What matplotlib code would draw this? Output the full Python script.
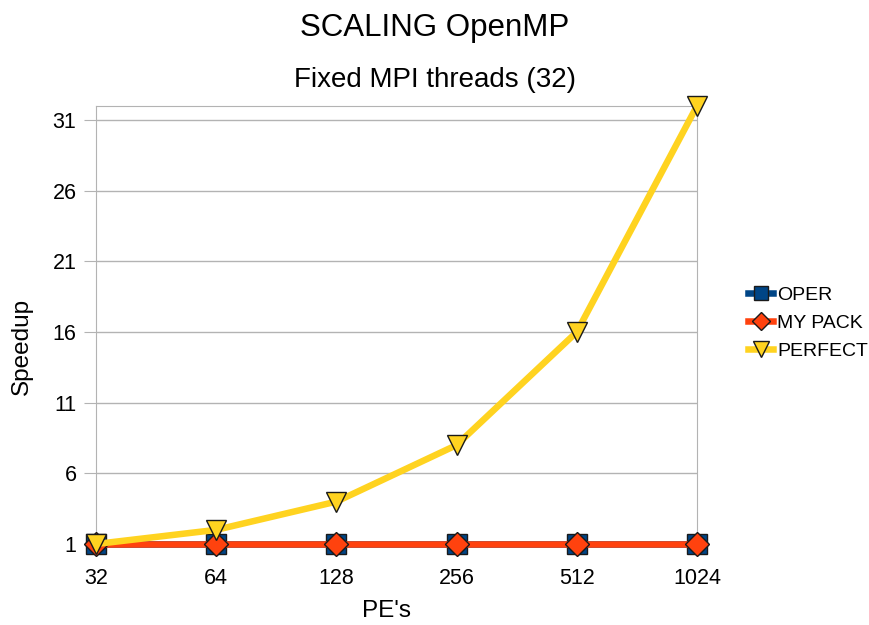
import matplotlib.pyplot as plt

plt.rcParams['font.family'] = ['Liberation Sans', 'DejaVu Sans']

# data
pes = ['32', '64', '128', '256', '512', '1024']
oper = [1, 1, 1, 1, 1, 1]
mypack = [1, 1, 1, 1, 1, 1]
perfect = [1, 2, 4, 8, 16, 32]

fig = plt.figure(figsize=(8.69, 6.25), dpi=100)
ax = fig.add_axes([0.1105, 0.1296, 0.6915, 0.7008])

x = list(range(len(pes)))
ax.plot(x, oper, color='#004586', lw=4.7, marker='s', ms=14,
        mfc='#004586', mec='#1a1a1a', mew=1, label='OPER', zorder=3, clip_on=False)
ax.plot(x, mypack, color='#ff420e', lw=4.7, marker='D', ms=12,
        mfc='#ff420e', mec='#1a1a1a', mew=1, label='MY PACK', zorder=4, clip_on=False)
ax.plot(x, perfect, color='#ffd320', lw=4.7, marker='v', ms=15,
        mfc='#ffd320', mec='#1a1a1a', mew=1, label='PERFECT', zorder=5, clip_on=False)

ax.set_xlim(0, 5)
ax.set_ylim(1, 32)
ax.set_xticks(x)
ax.set_xticklabels(pes)
ax.set_yticks([1, 6, 11, 16, 21, 26, 31])
ax.tick_params(axis='both', labelsize=15.5, color='#b3b3b3')
ax.tick_params(axis='y', length=8.6, pad=5.5)
ax.tick_params(axis='x', length=0, pad=17)
ax.yaxis.grid(True, color='#b3b3b3', lw=1)
ax.set_axisbelow(True)
for s in ax.spines.values():
    s.set_color('#b3b3b3')

ax.set_xlabel("PE's", fontsize=17.5, va='center', ha='center')
ax.set_ylabel('Speedup', fontsize=17.5, va='center', ha='center')
ax.xaxis.set_label_coords(0.483, -0.153)
ax.yaxis.set_label_coords(-0.123, 0.452)

fig.text(0.5, 1 - 28 / 625, 'SCALING OpenMP', ha='center', va='center', fontsize=22.5)
fig.text(0.5, 1 - 80 / 625, 'Fixed MPI threads (32)', ha='center', va='center', fontsize=20)

fig.legend(loc='center left', bbox_to_anchor=(748 / 869, 1 - 323 / 625), frameon=False,
           fontsize=14, handlelength=1.3, handletextpad=0.2, labelspacing=0.55,
           borderaxespad=0, borderpad=0, markerscale=0.75)

plt.savefig('out.png', dpi=100)
